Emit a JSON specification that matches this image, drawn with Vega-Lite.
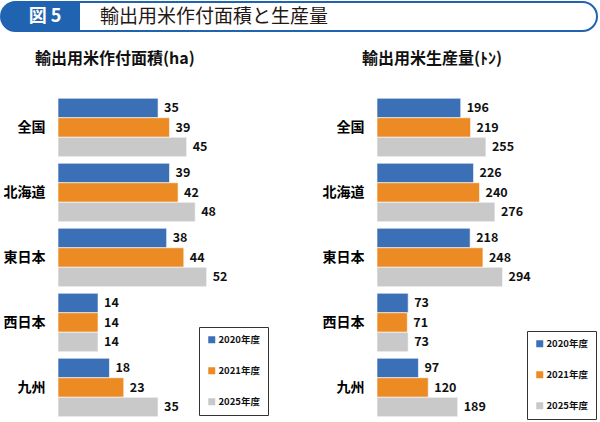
{
  "$schema": "https://vega.github.io/schema/vega-lite/v6.json",
  "padding": {"left": 0, "top": 1, "right": 2, "bottom": 0},
  "background": "white",
  "config": {"view": {"stroke": null}, "font": "Noto Sans CJK JP"},
  "datasets": {
    "d": [
      {"region": "全国", "year": "2020年度", "area": 35, "prod": 196},
      {"region": "全国", "year": "2021年度", "area": 39, "prod": 219},
      {"region": "全国", "year": "2025年度", "area": 45, "prod": 255},
      {"region": "北海道", "year": "2020年度", "area": 39, "prod": 226},
      {"region": "北海道", "year": "2021年度", "area": 42, "prod": 240},
      {"region": "北海道", "year": "2025年度", "area": 48, "prod": 276},
      {"region": "東日本", "year": "2020年度", "area": 38, "prod": 218},
      {"region": "東日本", "year": "2021年度", "area": 44, "prod": 248},
      {"region": "東日本", "year": "2025年度", "area": 52, "prod": 294},
      {"region": "西日本", "year": "2020年度", "area": 14, "prod": 73},
      {"region": "西日本", "year": "2021年度", "area": 14, "prod": 71},
      {"region": "西日本", "year": "2025年度", "area": 14, "prod": 73},
      {"region": "九州", "year": "2020年度", "area": 18, "prod": 97},
      {"region": "九州", "year": "2021年度", "area": 23, "prod": 120},
      {"region": "九州", "year": "2025年度", "area": 35, "prod": 189}
    ],
    "banner": [{"fig": "図 5", "title": "輸出用米作付面積と生産量"}]
  },
  "spacing": 18,
  "columns": 1,
  "align": "none",
  "center": false,
  "concat": [
    {
      "width": 539,
      "height": 29,
      "data": {"name": "banner"},
      "layer": [
        {
          "mark": {"type": "rect", "fill": "white", "stroke": "#2063b0", "strokeWidth": 2, "cornerRadius": 14.5},
          "encoding": {
            "x": {"datum": -10.57, "type": "quantitative", "scale": {"domain": [0, 100]}, "axis": null},
            "x2": {"datum": 100}
          }
        },
        {
          "mark": {"type": "rect", "color": "#2063b0", "cornerRadiusTopLeft": 14.5, "cornerRadiusBottomLeft": 14.5},
          "encoding": {
            "x": {"datum": -10.57, "type": "quantitative"},
            "x2": {"datum": 4.08}
          }
        },
        {
          "mark": {"type": "text", "color": "white", "fontSize": 18, "fontWeight": "bold", "align": "center", "baseline": "middle"},
          "encoding": {
            "x": {"datum": -2.41, "type": "quantitative"},
            "text": {"field": "fig"}
          }
        },
        {
          "mark": {"type": "text", "color": "#231815", "fontSize": 19, "align": "left", "baseline": "middle"},
          "encoding": {
            "x": {"datum": 7.79, "type": "quantitative"},
            "text": {"field": "title"}
          }
        }
      ]
    },
    {
      "spacing": 49,
      "resolve": {"legend": {"color": "independent"}},
      "hconcat": [
        {
          "width": 215,
          "height": 325,
          "title": {"text": "輸出用米作付面積(ha)", "anchor": "start", "frame": "group", "dx": -23, "fontSize": 16, "fontWeight": "bold", "offset": 28.5, "color": "#111"},
          "data": {"name": "d"},
          "encoding": {
            "y": {"field": "region", "type": "nominal", "sort": ["全国", "北海道", "東日本", "西日本", "九州"], "scale": {"paddingInner": 0.1, "paddingOuter": 0.05},
              "axis": {"title": null, "domain": false, "ticks": false, "labelFontSize": 14, "labelFontWeight": "bold", "labelColor": "#000", "labelPadding": 13}},
            "yOffset": {"field": "year", "type": "nominal", "sort": ["2020年度", "2021年度", "2025年度"]},
            "x": {"field": "area", "type": "quantitative", "scale": {"domain": [0, 75.2]}, "axis": null}
          },
          "layer": [
            {
              "mark": {"type": "bar", "stroke": "white", "strokeWidth": 0.6},
              "encoding": {
                "color": {"field": "year", "type": "nominal", "scale": {"domain": ["2020年度", "2021年度", "2025年度"], "range": ["#3b6fb6", "#ec8b23", "#c9c9c9"]},
                  "legend": {"orient": "bottom-right", "offset": 5, "title": null, "strokeColor": "#333", "fillColor": "white", "padding": 8, "rowPadding": 20, "symbolType": "square", "symbolSize": 49, "symbolStrokeWidth": 0, "labelFontSize": 9.5, "labelFontWeight": "bold", "labelColor": "#111", "labelOffset": 2}}
              }
            },
            {
              "mark": {"type": "text", "align": "left", "baseline": "middle", "dx": 6, "fontWeight": "bold", "fontSize": 12.5, "color": "#111"},
              "encoding": {"text": {"field": "area", "type": "quantitative"}}
            }
          ]
        },
        {
          "width": 220,
          "height": 325,
          "title": {"text": "輸出用米生産量(ﾄﾝ)", "anchor": "start", "frame": "group", "dx": -15, "fontSize": 16, "fontWeight": "bold", "offset": 28.5, "color": "#111"},
          "data": {"name": "d"},
          "encoding": {
            "y": {"field": "region", "type": "nominal", "sort": ["全国", "北海道", "東日本", "西日本", "九州"], "scale": {"paddingInner": 0.1, "paddingOuter": 0.05},
              "axis": {"title": null, "domain": false, "ticks": false, "labelFontSize": 14, "labelFontWeight": "bold", "labelColor": "#000", "labelPadding": 13}},
            "yOffset": {"field": "year", "type": "nominal", "sort": ["2020年度", "2021年度", "2025年度"]},
            "x": {"field": "prod", "type": "quantitative", "scale": {"domain": [0, 515]}, "axis": null}
          },
          "layer": [
            {
              "mark": {"type": "bar", "stroke": "white", "strokeWidth": 0.6},
              "encoding": {
                "color": {"field": "year", "type": "nominal", "scale": {"domain": ["2020年度", "2021年度", "2025年度"], "range": ["#3b6fb6", "#ec8b23", "#c9c9c9"]},
                  "legend": {"orient": "bottom-right", "offset": 1, "title": null, "strokeColor": "#333", "fillColor": "white", "padding": 8, "rowPadding": 20, "symbolType": "square", "symbolSize": 49, "symbolStrokeWidth": 0, "labelFontSize": 9.5, "labelFontWeight": "bold", "labelColor": "#111", "labelOffset": 2}}
              }
            },
            {
              "mark": {"type": "text", "align": "left", "baseline": "middle", "dx": 6, "fontWeight": "bold", "fontSize": 12.5, "color": "#111"},
              "encoding": {"text": {"field": "prod", "type": "quantitative"}}
            }
          ]
        }
      ]
    }
  ]
}
